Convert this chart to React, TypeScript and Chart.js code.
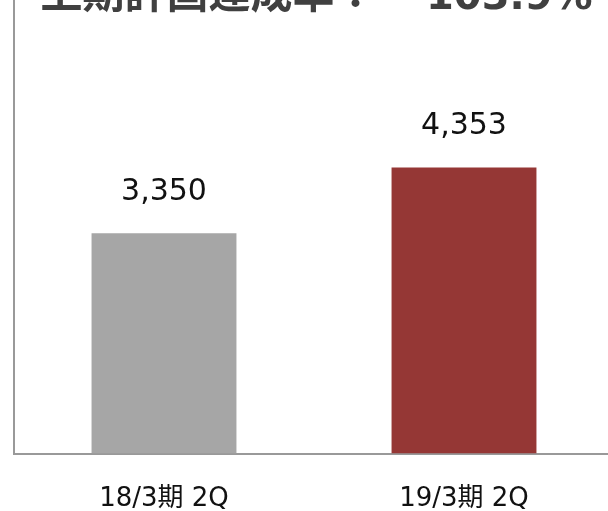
import React, { useEffect, useRef } from "react";
import { Chart, registerables } from "chart.js";

Chart.register(...registerables);

const categories = ["18/3期 2Q", "19/3期 2Q"];
const values = [3350, 4353];
const barColors = ["#A6A6A6", "#953735"];
const titleLabel = "上期計画達成率：";
const titleValue = "103.9%";
const yMin = 0;
const yMax = 6900;

export default function App() {
  const ref = useRef<HTMLCanvasElement>(null);

  useEffect(() => {
    const canvas = ref.current;
    if (!canvas) return;

    const valueLabels = {
      id: "valueLabels",
      afterDatasetsDraw(chart: any) {
        const ctx = chart.ctx;
        const meta = chart.getDatasetMeta(0);
        ctx.save();
        ctx.font = '30px "DejaVu Sans", Verdana, sans-serif';
        ctx.fillStyle = "#111111";
        ctx.textAlign = "center";
        ctx.textBaseline = "alphabetic";
        meta.data.forEach((bar: any, i: number) => {
          const v = chart.data.datasets[0].data[i] as number;
          ctx.fillText(v.toLocaleString("en-US"), bar.x, bar.y - 33);
        });
        ctx.restore();
      },
    };

    const titleText = {
      id: "titleText",
      afterDraw(chart: any) {
        const ctx = chart.ctx;
        ctx.save();
        ctx.fillStyle = "#404040";
        ctx.textAlign = "left";
        ctx.textBaseline = "alphabetic";
        ctx.font = 'bold 42px "Noto Sans CJK JP", sans-serif';
        ctx.fillText(titleLabel, 40.5, 8);
        ctx.font = 'bold 40px "DejaVu Sans", sans-serif';
        ctx.fillText(titleValue, 426, 9);
        ctx.restore();
      },
    };

    const chart = new Chart(canvas, {
      type: "bar",
      data: {
        labels: categories,
        datasets: [
          {
            data: values,
            backgroundColor: barColors,
            borderWidth: 0,
            barPercentage: 0.483,
            categoryPercentage: 1,
          },
        ],
      },
      options: {
        responsive: false,
        animation: false,
        layout: { padding: { left: 14, right: 6, top: 0, bottom: 2.3 } },
        plugins: {
          legend: { display: false },
          tooltip: { enabled: false },
          title: { display: false },
        },
        scales: {
          x: {
            grid: { display: false, drawTicks: false },
            border: { display: true, color: "#999999", width: 2 },
            ticks: {
              color: "#111111",
              padding: 30,
              font: { family: '"DejaVu Sans", "Noto Sans CJK JP", sans-serif', size: 26 },
            },
          },
          y: {
            min: yMin,
            max: yMax,
            grid: { display: false, drawTicks: false },
            border: { display: true, color: "#999999", width: 2 },
            ticks: { display: false },
          },
        },
      },
      plugins: [valueLabels, titleText],
    });

    return () => chart.destroy();
  }, []);

  return (
    <div
      style={{
        position: "fixed",
        left: 0,
        top: 0,
        width: 608,
        height: 511,
        overflow: "hidden",
        background: "#ffffff",
      }}
    >
      <canvas
        ref={ref}
        width={620}
        height={547}
        style={{ position: "absolute", left: 0, top: 0, width: 620, height: 547 }}
      />
    </div>
  );
}
